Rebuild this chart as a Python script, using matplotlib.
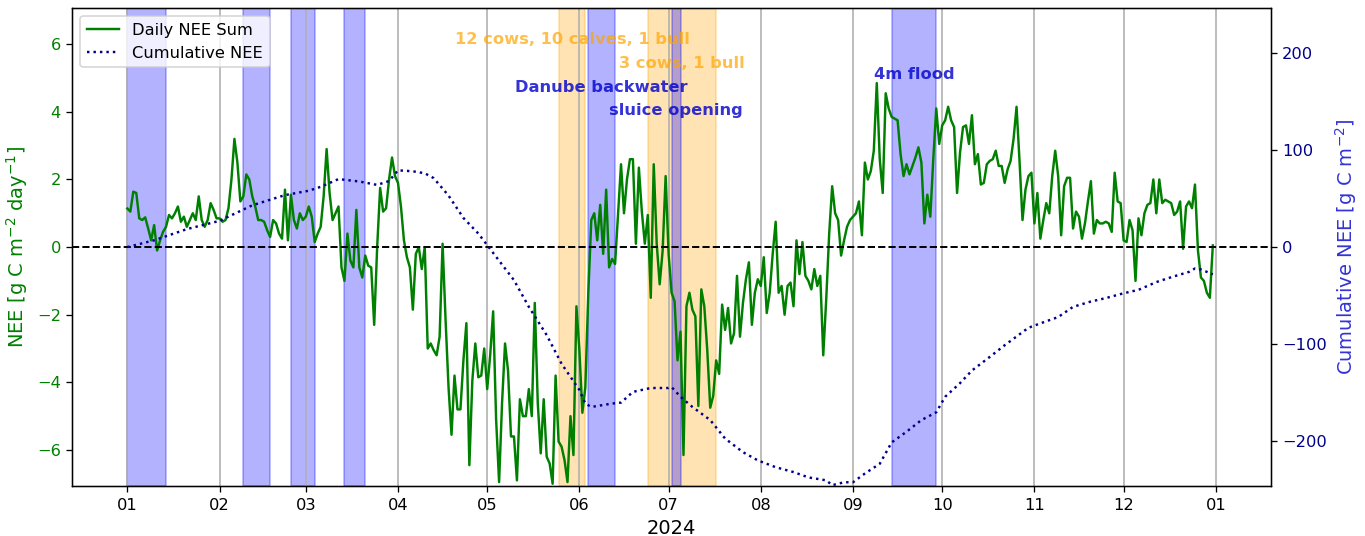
import matplotlib
matplotlib.use("Agg")
import matplotlib.pyplot as plt
import matplotlib.dates as mdates
import pandas as pd

# daily NEE sums [g C m-2 day-1], one list per month of 2024
jan = [1.14, 1.05, 1.64, 1.6, 0.85, 0.8, 0.88, 0.55, 0.2, 0.65,
       -0.1, 0.2, 0.45, 0.6, 0.95, 0.85, 1.0, 1.2, 0.75, 0.9,
       0.6, 0.8, 1.0, 0.8, 1.5, 0.8, 0.6, 0.8, 1.3, 1.1, 0.85]
feb = [0.85, 0.75, 0.8, 1.15, 2.0, 3.2, 2.5, 1.35, 1.5, 2.15,
       2.0, 1.5, 1.2, 0.8, 0.8, 0.75, 0.5, 0.3, 0.8, 0.7,
       0.4, 0.25, 1.7, 0.2, 1.55, 0.8, 0.55, 1.0, 0.8]
mar = [0.9, 1.2, 0.9, 0.15, 0.4, 0.6, 1.5, 2.9, 1.6, 0.8,
       1.0, 1.2, -0.6, -1.0, 0.4, -0.4, -0.6, 1.1, -0.6, -0.9,
       -0.25, -0.55, -0.6, -2.3, 0.0, 1.75, 1.05, 1.15, 2.0, 2.65, 2.1]
apr = [1.9, 1.2, 0.2, -0.3, -0.6, -1.85, -0.2, 0.0, -0.65, 0.0,
       -3.0, -2.85, -3.05, -3.2, -2.65, 0.1, -2.15, -4.15, -5.55, -3.8,
       -4.8, -4.8, -3.35, -2.25, -6.45, -3.95, -2.85, -3.85, -3.8, -3.0]
may = [-4.2, -3.2, -1.9, -5.1, -6.95, -4.6, -2.85, -3.65, -5.6, -5.6,
       -6.9, -4.5, -5.0, -5.0, -4.2, -5.0, -1.65, -4.6, -6.1, -4.5,
       -6.2, -6.4, -7.0, -3.8, -5.75, -5.9, -6.3, -6.95, -5.0, -6.15, -1.75]
jun = [-3.05, -4.9, -4.15, -1.35, 0.8, 1.0, 0.2, 1.25, -0.2, 1.7,
       -0.6, -0.35, -0.5, 1.0, 2.45, 1.0, 2.0, 2.6, 2.6, 0.1,
       2.35, 1.05, 0.1, 0.95, -1.5, 2.45, 0.1, -1.1, -0.1, 2.1]
jul = [-0.2, -1.35, -1.6, -3.35, -2.5, -6.15, -1.75, -1.35, -1.85, -2.05,
       -4.7, -1.25, -1.75, -3.05, -4.75, -4.4, -3.35, -3.75, -1.7, -2.45,
       -1.8, -2.85, -2.55, -0.85, -2.65, -1.65, -0.95, -0.45, -2.3, -1.35, -0.95]
aug = [-1.15, -0.3, -1.95, -1.35, -0.2, 0.75, -1.35, -1.15, -2.0, -1.15,
       -1.05, -1.75, 0.2, -0.8, 0.15, -0.85, -1.0, -1.25, -0.65, -1.15,
       -0.85, -3.2, -1.55, 0.4, 1.8, 1.0, 0.8, -0.25, 0.2, 0.6, 0.8]
sep = [0.9, 1.0, 1.35, 0.35, 2.5, 2.0, 2.25, 2.85, 4.85, 2.6,
       1.6, 4.55, 4.1, 3.85, 3.8, 3.75, 2.75, 2.1, 2.45, 2.15,
       2.4, 2.65, 2.95, 2.5, 0.7, 1.55, 0.9, 2.6, 4.1, 3.05]
oct = [3.6, 3.75, 4.15, 3.75, 3.55, 1.6, 2.8, 3.55, 3.6, 3.05,
       3.9, 2.45, 2.75, 1.85, 1.9, 2.45, 2.55, 2.6, 2.85, 2.4,
       2.4, 1.9, 2.3, 2.55, 3.2, 4.15, 2.55, 0.8, 1.7, 2.1, 2.2]
nov = [0.7, 1.6, 0.25, 0.8, 1.3, 1.0, 2.1, 2.85, 2.1, 0.35,
       1.8, 2.05, 2.05, 0.55, 1.05, 0.9, 0.25, 0.7, 1.35, 1.95,
       0.4, 0.8, 0.7, 0.7, 0.75, 0.7, 0.45, 2.2, 1.35, 1.3]
dec = [0.2, 0.15, 0.8, 0.5, -1.0, 0.85, 0.35, 1.0, 1.25, 1.3,
       2.0, 1.0, 2.0, 1.3, 1.4, 1.35, 1.3, 0.95, 1.05, 1.35,
       -0.05, 1.2, 1.35, 1.15, 1.85, -0.1, -0.9, -1.0, -1.35, -1.5, 0.05]

# cumulative NEE [g C m-2]
cum_dates = ["2024-01-01", "2024-01-10", "2024-01-21", "2024-02-01", "2024-02-12",
             "2024-02-23", "2024-03-02", "2024-03-06", "2024-03-12", "2024-03-19",
             "2024-03-25", "2024-03-29", "2024-04-01", "2024-04-06", "2024-04-10",
             "2024-04-13", "2024-04-18", "2024-04-23", "2024-04-28", "2024-05-01",
             "2024-05-10", "2024-05-15", "2024-05-21", "2024-05-26", "2024-06-01",
             "2024-06-03", "2024-06-05", "2024-06-12", "2024-06-15", "2024-06-19",
             "2024-06-25", "2024-07-01", "2024-07-02", "2024-07-05", "2024-07-09",
             "2024-07-15", "2024-07-20", "2024-07-26", "2024-07-31", "2024-08-06",
             "2024-08-12", "2024-08-17", "2024-08-23", "2024-08-25", "2024-08-29",
             "2024-09-01", "2024-09-05", "2024-09-10", "2024-09-14", "2024-09-19",
             "2024-09-24", "2024-09-29", "2024-10-02", "2024-10-07", "2024-10-11",
             "2024-10-17", "2024-10-22", "2024-10-30", "2024-11-03", "2024-11-09",
             "2024-11-14", "2024-11-20", "2024-11-25", "2024-12-01", "2024-12-06",
             "2024-12-12", "2024-12-17", "2024-12-23", "2024-12-25", "2024-12-27",
             "2024-12-31"]
cum_values = [0, 7, 18.5, 27, 43,
              53.5, 58, 62, 70, 67.5,
              64, 68, 79, 78, 76,
              71, 53, 30, 14, 2,
              -34, -61.5, -90.5, -120, -147,
              -161, -164.5, -161, -160, -149,
              -145, -145, -144, -154, -164.5,
              -178, -197, -211, -219.5, -226.5,
              -231.5, -237, -240, -245, -242,
              -242, -233, -223, -201, -190,
              -178, -170, -154, -140, -127,
              -113, -101, -83, -78.5, -72,
              -61.5, -56, -52.5, -47.5, -44,
              -36, -31, -25.5, -22, -23,
              -28]

# water events (blue) and grazing (orange)
flood_periods = [("2024-01-01", "2024-01-14"), ("2024-02-09", "2024-02-18"),
                 ("2024-02-25", "2024-03-04"), ("2024-03-14", "2024-03-21"),
                 ("2024-06-04", "2024-06-13"), ("2024-07-02", "2024-07-05"),
                 ("2024-09-14", "2024-09-29")]
flood_labels = {4: ("Danube backwater", 4.73), 5: ("sluice opening", 4.05), 6: ("4m flood", 5.09)}
grazing_periods = [("2024-05-25", "2024-06-03"), ("2024-06-24", "2024-07-17")]
grazing_labels = [("12 cows, 10 calves, 1 bull", 6.15), ("3 cows, 1 bull", 5.44)]


def midpoint(start, end):
  s = pd.Timestamp(start)
  return s + (pd.Timestamp(end) - s) / 2


def main():
  daily = jan + feb + mar + apr + may + jun + jul + aug + sep + oct + nov + dec
  days = pd.date_range("2024-01-01", periods=len(daily), freq="D")

  fig, ax = plt.subplots(figsize=(1365 / 117, 536 / 117), dpi=117)
  fig.subplots_adjust(left=0.053, right=0.931, bottom=0.093, top=0.985)
  ax2 = ax.twinx()

  for start, end in grazing_periods:
    ax.axvspan(pd.Timestamp(start), pd.Timestamp(end), color='orange', alpha=0.3)
  for start, end in flood_periods:
    ax.axvspan(pd.Timestamp(start), pd.Timestamp(end), color='blue', alpha=0.3)

  for (start, end), (text, y) in zip(grazing_periods, grazing_labels):
    ax.text(midpoint(start, end), y, text, ha='center', va='center',
            fontweight='bold', color='orange', alpha=0.7)
  for i, (text, y) in flood_labels.items():
    start, end = flood_periods[i]
    ax.text(midpoint(start, end), y, text, ha='center', va='center',
            fontweight='bold', color='mediumblue', alpha=0.8)

  l1, = ax.plot(days, daily, color='green', lw=1.5, label='Daily NEE Sum')
  ax.axhline(0, color='black', ls='--', lw=1.2)
  l2, = ax2.plot(pd.to_datetime(cum_dates), cum_values, color='darkblue', ls=':',
                 lw=1.5, label='Cumulative NEE')

  ax.set_xlim(pd.Timestamp("2023-12-13 12:00"), pd.Timestamp("2025-01-19 12:00"))
  ax.set_ylim(-7.07, 7.07)
  ax2.set_ylim(-246, 246)
  ax.xaxis.set_major_locator(mdates.MonthLocator())
  ax.xaxis.set_major_formatter(mdates.DateFormatter('%m'))
  ax.xaxis.grid(True, color='#b0b0b0', lw=1)

  ax.set_xlabel('2024', fontsize=12)
  ax.set_ylabel('NEE [g C m$^{-2}$ day$^{-1}$]', color='green', fontsize=12)
  ax.tick_params(axis='y', labelcolor='green')
  ax2.set_ylabel('Cumulative NEE [g C m$^{-2}$]', color='mediumblue', alpha=0.8, fontsize=12)
  ax2.tick_params(axis='y', labelcolor='darkblue')

  ax2.legend([l1, l2], ['Daily NEE Sum', 'Cumulative NEE'], loc='upper left')
  plt.savefig('out.png')


if __name__ == "__main__":
  main()
